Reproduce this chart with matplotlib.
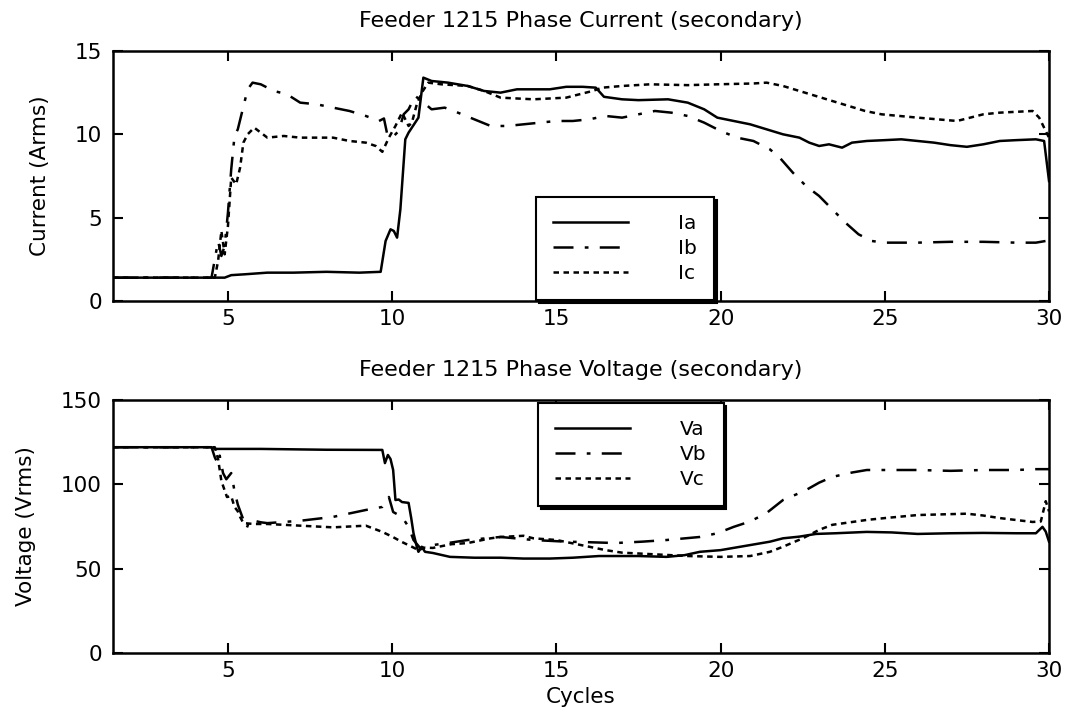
import numpy as np
import matplotlib
matplotlib.use('Agg')
import matplotlib.pyplot as plt

plt.rcParams['font.family'] = ['DejaVu Sans']

# ---- phase current (secondary), Arms vs cycles
ia_cyc = [1.5, 4.9, 5.1, 5.5, 6.2, 7.0, 8.0, 9.0, 9.65, 9.8, 9.95, 10.05, 10.15, 10.25,
          10.4, 10.5, 10.6, 10.7, 10.8, 10.95, 11.2, 11.7, 12.3, 12.8, 13.3, 13.8, 14.3,
          14.8, 15.3, 15.8, 16.2, 16.45, 17.0, 17.5, 18.4, 19.0, 19.5, 19.9, 20.4, 20.9,
          21.4, 21.9, 22.4, 22.7, 23.0, 23.3, 23.7, 24.0, 24.45, 25.0, 25.5, 26.0, 26.5,
          27.0, 27.5, 28.0, 28.5, 29.0, 29.6, 29.85, 29.95, 30.0]
ia_val = [1.4, 1.4, 1.55, 1.6, 1.7, 1.7, 1.75, 1.7, 1.75, 3.6, 4.3, 4.2, 3.8, 5.5,
          9.7, 10.1, 10.4, 10.7, 11.0, 13.4, 13.2, 13.1, 12.9, 12.6, 12.5, 12.7, 12.7,
          12.7, 12.85, 12.85, 12.8, 12.25, 12.1, 12.05, 12.1, 11.9, 11.5, 11.0, 10.8, 10.6,
          10.3, 10.0, 9.8, 9.5, 9.3, 9.4, 9.2, 9.5, 9.6, 9.65, 9.7, 9.6, 9.5,
          9.35, 9.25, 9.4, 9.6, 9.65, 9.7, 9.6, 8.0, 7.2]

ib_cyc = [1.5, 4.5, 4.6, 4.7, 4.8, 4.9, 5.0, 5.1, 5.2, 5.3, 5.45, 5.6, 5.75, 6.0, 6.4,
          6.8, 7.2, 7.7, 8.2, 8.7, 9.2, 9.6, 9.75, 9.85, 10.0, 10.2, 10.35, 10.5, 10.7,
          10.9, 11.2, 11.6, 12.0, 12.5, 13.0, 13.5, 14.0, 14.5, 15.0, 15.5, 16.0, 16.5,
          17.0, 17.5, 18.0, 18.5, 19.0, 19.5, 20.0, 20.5, 21.0, 21.5, 21.8, 22.2, 22.6,
          23.0, 23.4, 23.8, 24.2, 24.6, 25.0, 26.0, 27.0, 28.0, 29.0, 29.6, 29.9, 30.0]
ib_val = [1.4, 1.4, 2.5, 3.6, 2.7, 3.3, 5.3, 7.9, 9.9, 10.3, 11.5, 12.7, 13.1, 13.0, 12.6,
          12.4, 11.9, 11.8, 11.6, 11.4, 11.1, 10.8, 10.95, 10.0, 9.8, 10.2, 11.2, 11.5, 12.3,
          12.0, 11.5, 11.6, 11.3, 10.9, 10.5, 10.5, 10.6, 10.7, 10.8, 10.8, 10.9, 11.1,
          11.0, 11.2, 11.4, 11.3, 11.1, 10.7, 10.2, 9.8, 9.6, 9.1, 8.6, 7.7, 6.9,
          6.3, 5.5, 4.7, 4.0, 3.6, 3.5, 3.5, 3.55, 3.55, 3.5, 3.5, 3.6, 3.6]

ic_cyc = [1.5, 4.6, 4.7, 4.8, 4.9, 5.0, 5.1, 5.25, 5.37, 5.47, 5.6, 5.8, 6.2, 6.7, 7.2,
          7.7, 8.2, 8.7, 9.2, 9.5, 9.7, 9.9, 10.1, 10.3, 10.5, 10.6, 10.75, 10.9, 11.1,
          11.5, 12.3, 12.8, 13.3, 14.3, 15.3, 16.1, 16.4, 17.0, 17.85, 19.0, 19.9, 21.0,
          21.4, 21.9, 22.4, 22.9, 23.4, 23.9, 24.4, 24.9, 26.0, 27.2, 27.6, 28.0, 28.5,
          29.0, 29.5, 29.7, 29.85, 30.0]
ic_val = [1.4, 1.4, 2.4, 4.2, 2.8, 4.5, 7.4, 7.0, 8.0, 9.5, 10.0, 10.4, 9.8, 9.9, 9.8,
          9.8, 9.8, 9.6, 9.5, 9.3, 8.95, 9.8, 10.5, 11.3, 10.5, 10.7, 11.8, 12.5, 13.1,
          13.0, 12.9, 12.6, 12.2, 12.1, 12.2, 12.6, 12.8, 12.9, 13.0, 12.95, 13.0, 13.05,
          13.1, 12.9, 12.6, 12.3, 12.0, 11.7, 11.4, 11.2, 11.0, 10.8, 11.0, 11.2, 11.3,
          11.35, 11.4, 11.0, 10.4, 9.8]

# ---- phase voltage (secondary), Vrms vs cycles
va_cyc = [1.5, 4.5, 4.6, 6.0, 8.0, 9.7, 9.78, 9.87, 9.95, 10.03, 10.1, 10.2, 10.3, 10.5,
          10.58, 10.65, 10.75, 10.8, 10.9, 11.0, 11.24, 11.76, 12.5, 13.3, 14.0, 14.8,
          15.5, 16.3, 16.8, 17.5, 18.36, 18.9, 19.37, 20.0, 20.9, 21.5, 21.9, 22.4, 22.9,
          23.5, 24.45, 25.2, 26.0, 27.0, 28.0, 29.0, 29.6, 29.8, 29.9, 30.0]
va_val = [122, 122, 121, 121, 120.5, 120.4, 112.6, 117.4, 115, 108.5, 90.7, 91, 89.5, 89,
          80, 71, 63, 60, 63, 60, 59.3, 57, 56.5, 56.5, 56, 56,
          56.5, 57.5, 57.5, 57.5, 57, 58, 60, 61, 64, 66, 68, 69, 70.6,
          71, 71.8, 71.5, 70.6, 71, 71.2, 71, 71, 74.8, 72, 66]

vb_cyc = [1.5, 4.5, 4.6, 4.7, 4.75, 4.85, 4.95, 5.1, 5.2, 5.3, 5.45, 5.57, 5.67, 6.0,
          6.2, 7.2, 8.2, 9.2, 9.7, 9.9, 10.03, 10.3, 10.5, 10.65, 10.85, 11.24, 11.8,
          12.3, 13.3, 14.3, 15.3, 15.8, 16.8, 17.6, 18.36, 19.37, 19.9, 20.4, 20.9, 21.4,
          21.9, 22.3, 22.6, 23.0, 23.4, 24.0, 24.45, 25.0, 26.0, 27.0, 28.0, 29.0, 29.6, 30.0]
vb_val = [122, 122, 116, 112, 117, 106.7, 103, 106.7, 96, 88, 80, 74, 79, 77.5,
          77, 78.4, 80.7, 84.8, 86.6, 92.5, 83.6, 80.7, 74.8, 67, 62.3, 64, 65.5,
          67, 68.8, 67, 66, 65.8, 65.2, 66, 67, 68.8, 71, 74.8, 78, 83,
          90.7, 94, 96.6, 101, 104.4, 107, 108.5, 108.5, 108.5, 108, 108.5, 108.5, 109, 109]

vc_cyc = [1.5, 4.6, 4.7, 4.8, 4.97, 5.1, 5.2, 5.3, 5.37, 5.47, 5.8, 6.2, 7.2, 8.2, 9.2,
          9.7, 10.0, 10.3, 10.6, 10.8, 11.0, 11.24, 11.8, 12.3, 13.0, 13.3, 14.0, 14.3,
          15.0, 15.5, 16.0, 16.5, 17.0, 18.0, 19.0, 20.0, 20.9, 21.5, 21.9, 22.5, 23.0,
          23.4, 24.45, 25.0, 26.0, 27.5, 28.0, 28.5, 29.5, 29.75, 29.9, 30.0]
vc_val = [122, 122, 115, 102, 92.5, 93, 86.6, 84, 80.7, 77, 76.5, 76.5, 75.5, 74.5, 75.5,
          71.8, 69, 65.8, 63, 61, 62.5, 62.3, 64.5, 65.2, 68, 68.8, 69.5, 68,
          67, 65, 63, 61, 59.5, 58.5, 57.5, 57, 57.5, 60, 63, 68, 73,
          76, 78.9, 80, 81.8, 82.6, 81.5, 80, 77.7, 78, 90, 84]

current_labels = ['Ia', 'Ib', 'Ic']
voltage_labels = ['Va', 'Vb', 'Vc']
x_ticks = [5, 10, 15, 20, 25, 30]

# solid / dash-dot / short dash, as in the scan
dash_a = None
dash_b = (8, 4.5, 1.5, 4.5)
dash_c = (2.2, 1.8)

FS = 15.5       # tick / axis labels
FS_TITLE = 16
FS_LEG = 14.5


def _style_axes(ax, ylim, yticks, ylabel):
    ax.set_xlim(1.5, 30)
    ax.set_ylim(ylim)
    ax.set_xticks(x_ticks)
    ax.set_yticks(yticks)
    ax.tick_params(direction='in', length=7, width=1.5, top=True, right=True,
                   labelsize=FS, pad=6)
    ax.tick_params(axis='y', pad=8)
    for sp in ax.spines.values():
        sp.set_linewidth(1.8)
    ax.set_ylabel(ylabel, fontsize=FS, labelpad=18)


def _plot_three(ax, series, labels):
    lines = []
    for (xx, yy, dash), lab in zip(series, labels):
        ln, = ax.plot(xx, yy, color='k', lw=1.8, label=lab)
        if dash is not None:
            ln.set_dashes(dash)
        lines.append(ln)
    return lines


def _legend(ax, anchor):
    leg = ax.legend(loc='upper left', bbox_to_anchor=anchor, fontsize=FS_LEG,
                    frameon=True, fancybox=False, edgecolor='k', framealpha=1,
                    handlelength=3.7, handletextpad=2.5, borderpad=0.85,
                    labelspacing=0.3, borderaxespad=0,
                    shadow={'color': 'k', 'alpha': 1})
    leg.get_frame().set_linewidth(1.5)
    return leg


fig = plt.figure(figsize=(10.7, 7.18), dpi=100)
ax1 = fig.add_axes([0.1056, 0.5808, 0.8748, 0.3482])
ax2 = fig.add_axes([0.1056, 0.0905, 0.8748, 0.3524])

_plot_three(ax1, [(ia_cyc, ia_val, dash_a), (ib_cyc, ib_val, dash_b),
                  (ic_cyc, ic_val, dash_c)], current_labels)
_style_axes(ax1, (0, 15), [0, 5, 10, 15], 'Current (Arms)')
ax1.set_title('Feeder 1215 Phase Current (secondary)', fontsize=FS_TITLE, pad=17)
_legend(ax1, (0.452, 0.416))

_plot_three(ax2, [(va_cyc, va_val, dash_a), (vb_cyc, vb_val, dash_b),
                  (vc_cyc, vc_val, dash_c)], voltage_labels)
_style_axes(ax2, (0, 150), [0, 50, 100, 150], 'Voltage (Vrms)')
ax2.set_title('Feeder 1215 Phase Voltage (secondary)', fontsize=FS_TITLE, pad=17)
ax2.set_xlabel('Cycles', fontsize=FS, labelpad=4)
_legend(ax2, (0.454, 0.988))

fig.savefig('out.png', dpi=100)
